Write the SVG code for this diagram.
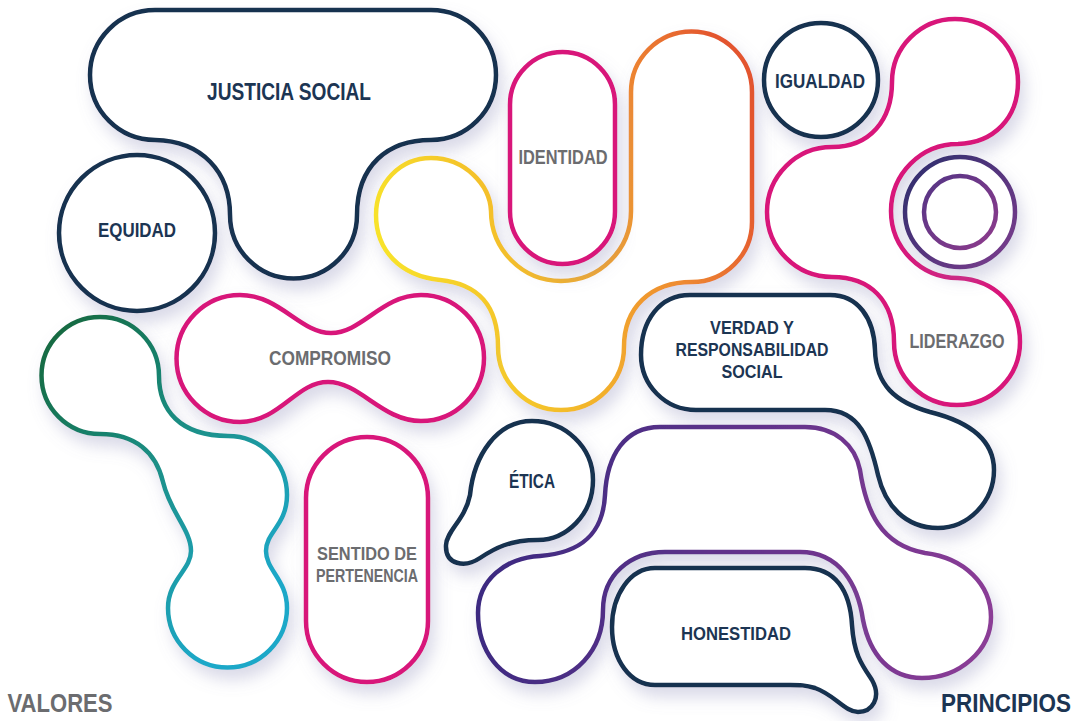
<svg xmlns="http://www.w3.org/2000/svg" width="1082" height="721" viewBox="0 0 1082 721">
<style>
.shape{fill:#ffffff;stroke-width:4.5;filter:url(#sh);stroke-linejoin:round}
.navy{stroke:#17304f}
.mag{stroke:#d8137a}
.t{font-family:"Liberation Sans",Arial,sans-serif;font-weight:bold;text-anchor:middle}
.tn{fill:#1c3553}
.tg{fill:#6b6c6f}
</style>
<defs>
<filter id="sh" x="-20%" y="-20%" width="140%" height="150%">
<feDropShadow dx="5" dy="10" stdDeviation="8" flood-color="#8a8ab8" flood-opacity="0.32"/>
</filter>
<linearGradient id="gGreen" gradientUnits="userSpaceOnUse" x1="40" y1="340" x2="290" y2="560">
<stop offset="0" stop-color="#17693f"/><stop offset="0.5" stop-color="#1a8f86"/><stop offset="1" stop-color="#1ba8c8"/>
</linearGradient>
<linearGradient id="gYellow" gradientUnits="userSpaceOnUse" x1="380" y1="260" x2="752" y2="150">
<stop offset="0" stop-color="#f8e42a"/><stop offset="0.45" stop-color="#f2b02c"/><stop offset="0.72" stop-color="#ee8c30"/><stop offset="1" stop-color="#e3542f"/>
</linearGradient>
<linearGradient id="gRing1" gradientUnits="userSpaceOnUse" x1="905" y1="160" x2="1015" y2="265">
<stop offset="0" stop-color="#2c2d6c"/><stop offset="1" stop-color="#7d3d8e"/>
</linearGradient>
<linearGradient id="gRing2" gradientUnits="userSpaceOnUse" x1="924" y1="177" x2="996" y2="248">
<stop offset="0" stop-color="#553585"/><stop offset="1" stop-color="#8e3b8c"/>
</linearGradient>
<linearGradient id="gPurple" gradientUnits="userSpaceOnUse" x1="480" y1="520" x2="990" y2="620">
<stop offset="0" stop-color="#3a2a80"/><stop offset="1" stop-color="#8b3c96"/>
</linearGradient>
</defs>
<rect width="1082" height="721" fill="#ffffff"/>

<g id="justicia-social">
<path class="shape navy" d="M155 10 H431 A65 65 0 0 1 431 140 C388 140 357 165 357 215 A63.5 63.5 0 0 1 230 215 C230 172 202 141 155 140 A65 65 0 0 1 155 10 Z"/>
<text class="t tn" x="289" y="100" font-size="23" textLength="164" lengthAdjust="spacingAndGlyphs">JUSTICIA SOCIAL</text>
</g>

<g id="equidad">
<circle class="shape navy" cx="137" cy="233" r="78"/>
<text class="t tn" x="137" y="237" font-size="20" textLength="78" lengthAdjust="spacingAndGlyphs">EQUIDAD</text>
</g>

<g id="yellow-loop">
<path class="shape" stroke="url(#gYellow)" d="M631 92 A60.5 60.5 0 0 1 752 92 V222 C752 255 725 282 692 282 C650 282 624 308 624 347 A63 63 0 0 1 498 347 C498 305 478 284 440 280 C400 276 376 250 376 215 C376 183 400 158 431 158 C465 158 490 185 491 211 A70 70 0 0 0 631 211 Z"/>
</g>

<g id="identidad">
<rect class="shape mag" x="510" y="52" width="105" height="212" rx="52.5" ry="52.5"/>
<text class="t tg" x="563" y="164" font-size="20" textLength="89" lengthAdjust="spacingAndGlyphs">IDENTIDAD</text>
</g>

<g id="igualdad">
<circle class="shape navy" cx="821" cy="80" r="57"/>
<text class="t tn" x="820" y="88" font-size="20" textLength="90" lengthAdjust="spacingAndGlyphs">IGUALDAD</text>
</g>

<g id="liderazgo">
<path class="shape mag" d="M955 19 A63 63 0 0 1 1018 82 C1018 118 994 143 958 144 A67 67 0 0 0 958 278 C995 280 1020 305 1020 342 A63 63 0 0 1 894 342 C894 300 870 277 832 277 A65 65 0 0 1 832 147 C870 147 892 120 892 82 A63 63 0 0 1 955 19 Z"/>
<text class="t tg" x="957" y="348" font-size="20" textLength="95" lengthAdjust="spacingAndGlyphs">LIDERAZGO</text>
</g>

<g id="rings">
<circle class="shape" stroke="url(#gRing1)" cx="960" cy="212" r="55"/>
<circle class="shape" stroke="url(#gRing2)" cx="960" cy="212" r="36" style="filter:none"/>
</g>

<g id="compromiso">
<path class="shape mag" d="M240 295 C280 295 300 333 331 333 C362 333 382 295 421 295 A63 63 0 0 1 421 421 C382 421 360 382 328 382 C296 382 280 422 240 422 A63.5 63.5 0 0 1 240 295 Z"/>
<text class="t tg" x="330" y="365" font-size="20" textLength="122" lengthAdjust="spacingAndGlyphs">COMPROMISO</text>
</g>

<g id="green-shape">
<path class="shape" stroke="url(#gGreen)" d="M100 317 A59 59 0 0 1 159 376 C159 410 180 436 228 436 A59 59 0 0 1 287 495 C287 525 266 532 266 551 C266 570 287 580 287 608 A59.5 59.5 0 0 1 168 608 C168 580 191 570 191 551 C191 530 170 512 163 482 C156 452 135 434 100 434 A58.5 58.5 0 0 1 100 317 Z"/>
</g>

<g id="sentido">
<rect class="shape mag" x="306" y="437" width="122" height="245" rx="61" ry="61"/>
<text class="t tg" x="367" y="560" font-size="18" textLength="100" lengthAdjust="spacingAndGlyphs">SENTIDO DE</text>
<text class="t tg" x="367" y="582" font-size="18" textLength="102" lengthAdjust="spacingAndGlyphs">PERTENENCIA</text>
</g>

<g id="verdad">
<path class="shape navy" d="M690 295 H830 C858 295 874 318 875 350 C876 385 895 402 930 412 C970 422 994 440 994 470 C994 502 968 528 938 528 C905 528 885 505 878 475 C870 440 860 410 825 410 H696 C665 410 641 385 641 355 C641 320 660 295 690 295 Z"/>
<text class="t tn" x="752" y="334" font-size="19" textLength="84" lengthAdjust="spacingAndGlyphs">VERDAD Y</text>
<text class="t tn" x="752" y="356" font-size="19" textLength="153" lengthAdjust="spacingAndGlyphs">RESPONSABILIDAD</text>
<text class="t tn" x="752" y="378" font-size="19" textLength="61" lengthAdjust="spacingAndGlyphs">SOCIAL</text>
</g>

<g id="etica">
<path class="shape navy" d="M532 421 C565 421 593 447 593 480 C593 515 566 540 538 540 C510 540 495 548 480 558 C465 568 445 565 446 545 C447 530 465 520 470 495 C474 455 497 421 532 421 Z"/>
<text class="t tn" x="532" y="488" font-size="20" textLength="46" lengthAdjust="spacingAndGlyphs">ÉTICA</text>
</g>

<g id="purple-shape">
<path class="shape" stroke="url(#gPurple)" d="M660 427 H805 C835 427 855 445 860 470 C866 510 880 545 925 553 C965 558 991 585 991 617 C991 650 960 678 922 678 C890 678 870 655 863 620 C858 585 840 552 800 552 H665 C630 552 603 575 603 610 C603 650 575 682 535 682 C500 682 478 650 478 613 C478 580 505 558 540 556 C580 553 603 535 605 495 C607 455 625 427 660 427 Z"/>
</g>

<g id="honestidad">
<path class="shape navy" d="M655 568 H805 C835 568 850 590 852 625 C854 655 862 665 872 680 C882 698 872 712 858 712 C845 712 835 695 815 688 C805 685 800 685 790 685 H655 C630 685 612 660 612 627 C612 595 630 568 655 568 Z"/>
<text class="t tn" x="736" y="640" font-size="19" textLength="110" lengthAdjust="spacingAndGlyphs">HONESTIDAD</text>
</g>

<g id="labels">
<text class="t tg" x="60" y="712" font-size="25" textLength="105" lengthAdjust="spacingAndGlyphs" fill="#5d5e61">VALORES</text>
<text class="t tn" x="1006" y="712" font-size="25" textLength="130" lengthAdjust="spacingAndGlyphs">PRINCIPIOS</text>
</g>
</svg>
